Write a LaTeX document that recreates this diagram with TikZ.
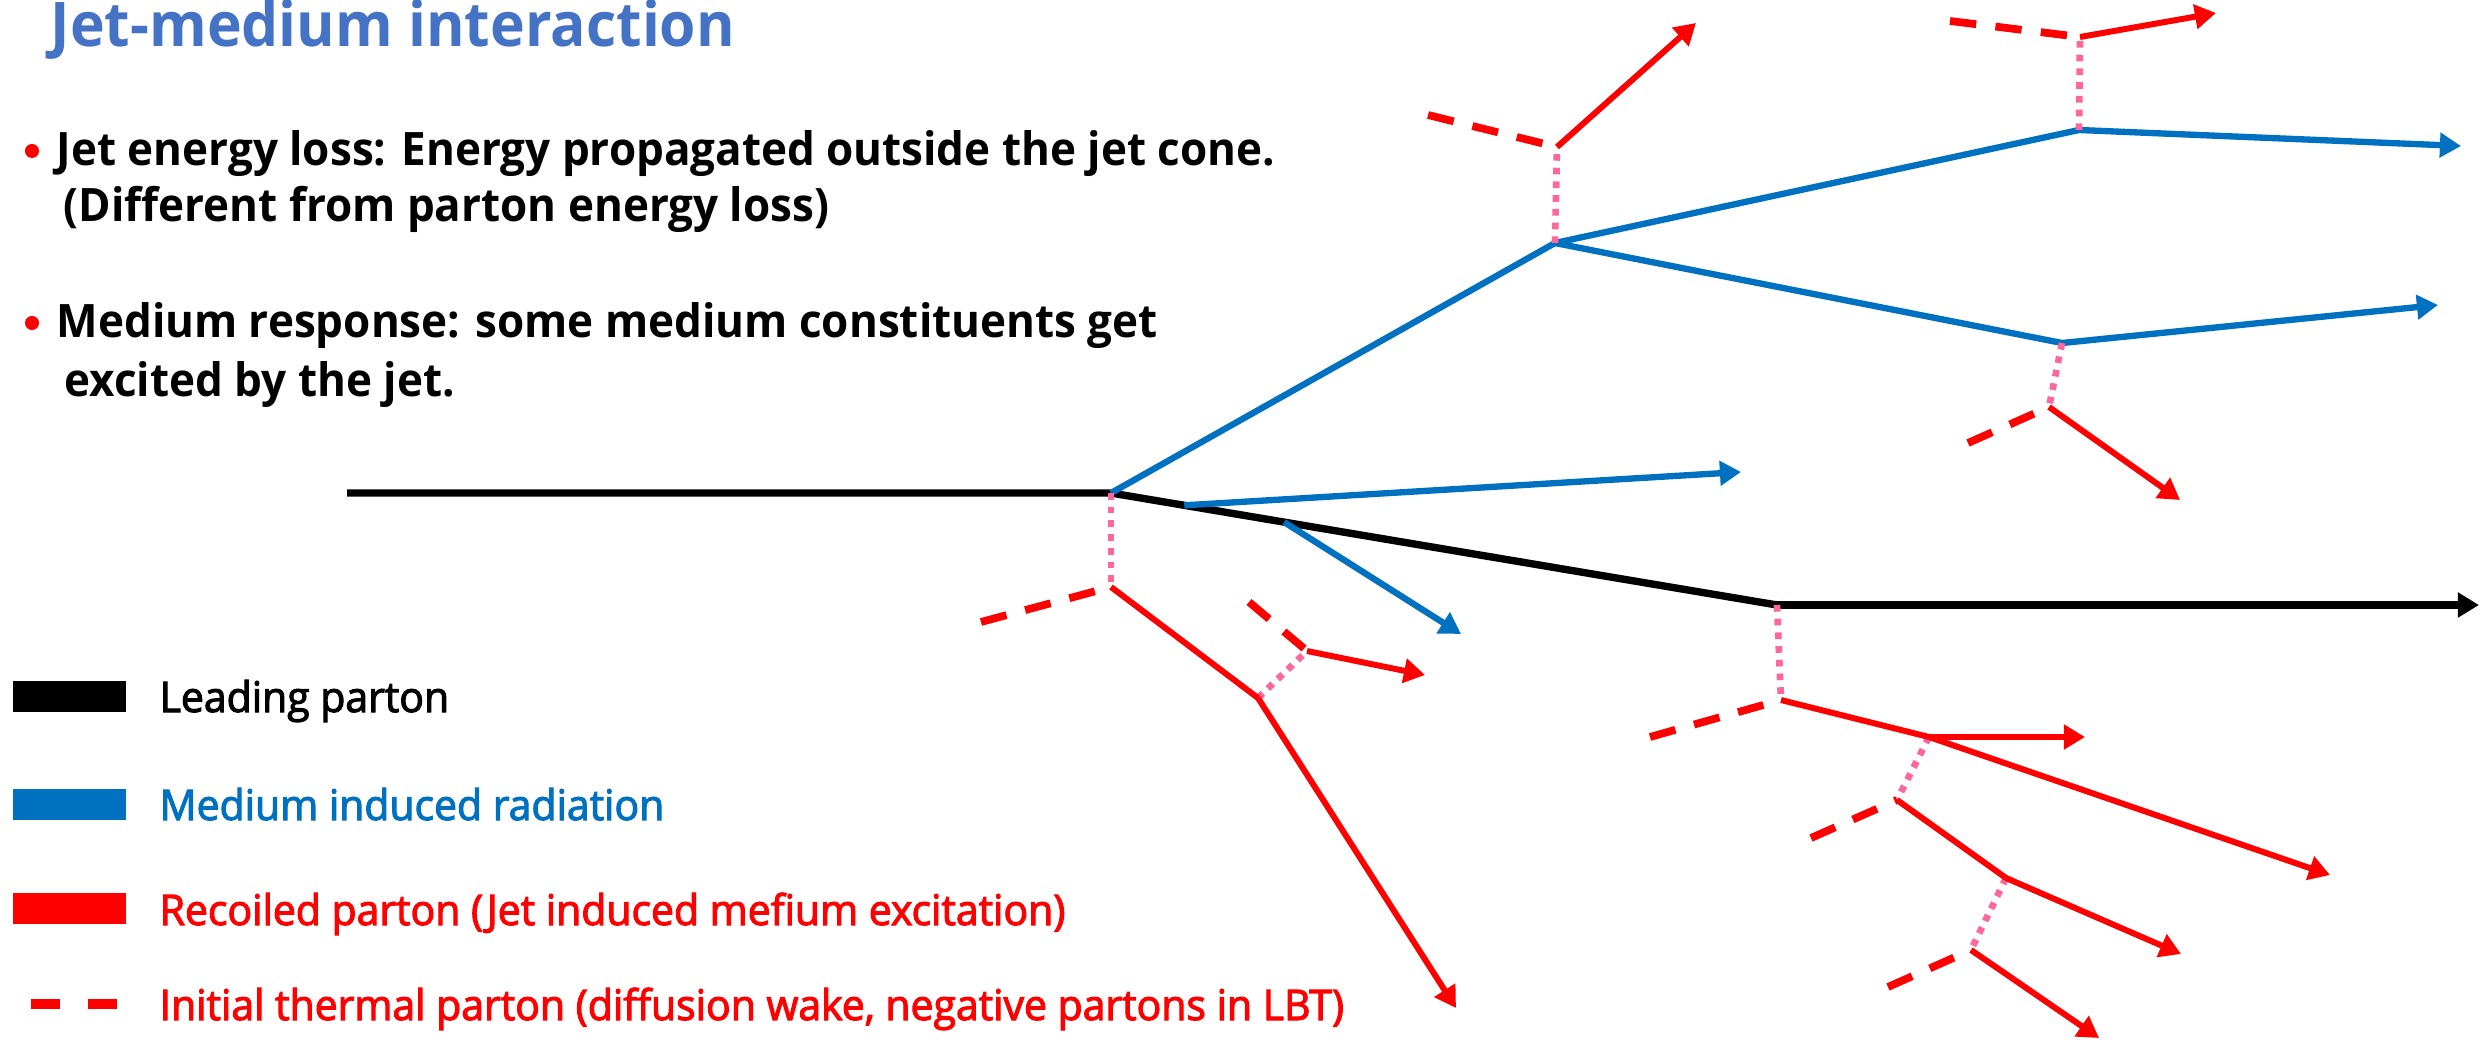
\documentclass[tikz,border=0pt]{standalone}
\usepackage{xcolor}
\usepackage{fontspec}
\setmainfont{Open Sans}[FakeStretch=0.97, FakeBold=2.5]
\newfontfamily\headfont{Open Sans}[FakeStretch=0.955]
\usepackage{tikz}
\usetikzlibrary{arrows.meta, positioning, calc}
\definecolor{titleblue}{RGB}{68,114,196}
\definecolor{radblue}{RGB}{0,112,192}
\definecolor{wakepink}{RGB}{255,102,153}
\tikzstyle{tip} = [-{Triangle[length=6pt,width=6.8pt]}]
\tikzstyle{leading} = [line width=2.1pt, black]
\tikzstyle{radiation} = [line width=1.8pt, radblue]
\tikzstyle{recoil} = [line width=1.7pt, red]
\tikzstyle{thermal} = [line width=2.2pt, red, dash pattern=on 7.5pt off 5.5pt]
\tikzstyle{scatter} = [line width=1.9pt, wakepink, dash pattern=on 1.9pt off 2pt]
\tikzstyle{heading} = [anchor=base west, inner sep=0pt, text=titleblue, font=\headfont\fontsize{17.5}{21}\selectfont\bfseries]
\tikzstyle{bullettext} = [anchor=base west, inner sep=0pt, font=\headfont\fontsize{13.1}{16}\selectfont\bfseries]
\tikzstyle{bulletdot} = [circle, fill=red, inner sep=0pt, minimum size=0.14cm]
\tikzstyle{swatch} = [rectangle, inner sep=0pt, minimum width=1.13cm, minimum height=0.31cm]
\tikzstyle{legendtext} = [anchor=base west, inner sep=0pt, font=\fontsize{12}{14}\selectfont]

\begin{document}
\begin{tikzpicture}[x=0.01cm, y=-0.01cm]
    \useasboundingbox (0,0) rectangle (2481,1040);

    % Titulo
    \node (title) [heading] at (50,47) {Jet-medium interaction};

    % Puntos
    \node (dot1) [bulletdot] at (32,151) {};
    \node (loss) [bullettext] at (56,166) {Jet energy loss: Energy propagated outside the jet cone.};
    \node (lossb) [bullettext] at (63,222) {(Different from parton energy loss)};
    \node (dot2) [bulletdot] at (32,323) {};
    \node (resp) [bullettext] at (56,338) {Medium response: some medium constituents get};
    \node (respb) [bullettext] at (64,397) {excited by the jet.};

    % Leyenda
    \node (swlead) [swatch, fill=black] at (69.5,696.5) {};
    \node (swrad) [swatch, fill=radblue] at (69.5,804.5) {};
    \node (swrec) [swatch, fill=red] at (69.5,908.5) {};
    \coordinate (swth1) at (31,1004);
    \coordinate (swth2) at (118,1004);
    \draw [red, line width=2.6pt, dash pattern=on 8.2pt off 8pt] (swth1) -- (swth2);
    \node (txlead) [legendtext] at (159,712) {Leading parton};
    \node (txrad) [legendtext, text=radblue] at (159,820) {Medium induced radiation};
    \node (txrec) [legendtext, text=red] at (159,925) {Recoiled parton (Jet induced mefium excitation)};
    \node (txth) [legendtext, text=red] at (159,1020) {Initial thermal parton (diffusion wake, negative partons in LBT)};

    % Vertices
    \coordinate (start) at (347,493);
    \coordinate (v1) at (1111,493);
    \coordinate (v2) at (1777,605);
    \coordinate (lpend) at (2479,605);
    \coordinate (b1) at ($(v1)!0.11!(v2)$);
    \coordinate (b2) at ($(v1)!0.26!(v2)$);
    \coordinate (v3) at (1555,243);
    \coordinate (v4) at (2079,130);
    \coordinate (v4end) at (2461,146);
    \coordinate (v5) at (2062,343);
    \coordinate (v5end) at (2438,305);
    \coordinate (b1end) at (1741,472);
    \coordinate (b2end) at (1461,634);

    \coordinate (r1) at (1111,587);
    \coordinate (r1th) at (981,622);
    \coordinate (r2) at (1258,698);
    \coordinate (r2end) at (1456,1008);
    \coordinate (r3) at (1307,651);
    \coordinate (r3th) at (1249,602);
    \coordinate (r3end) at (1425,675);
    \coordinate (r4) at (1557,147);
    \coordinate (r4th) at (1428,115);
    \coordinate (r4end) at (1696,23);
    \coordinate (r5) at (2080,37);
    \coordinate (r5th) at (1950,21);
    \coordinate (r5end) at (2216,13);
    \coordinate (r6) at (2049,407);
    \coordinate (r6th) at (1968,443);
    \coordinate (r6end) at (2180,500);
    \coordinate (r7) at (1781,700);
    \coordinate (r7th) at (1650,737);
    \coordinate (r8) at (1929,737);
    \coordinate (r8end) at (2330,875);
    \coordinate (r8hend) at (2085,737);
    \coordinate (r9) at (1897,800);
    \coordinate (r9th) at (1811,838);
    \coordinate (r10) at (2006,878);
    \coordinate (r10end) at (2181,954);
    \coordinate (r11) at (1971,950);
    \coordinate (r11th) at (1888,987);
    \coordinate (r11end) at (2099,1038);

    % Parton lider
    \draw [leading] (start) -- (v1) -- (v2);
    \draw [leading, tip] (v2) -- (lpend);

    % Radiacion
    \draw [radiation] (v1) -- (v3) -- (v4);
    \draw [radiation, tip] (v4) -- (v4end);
    \draw [radiation] (v3) -- (v5);
    \draw [radiation, tip] (v5) -- (v5end);
    \draw [radiation, tip] (b1) -- (b1end);
    \draw [radiation, tip] (b2) -- (b2end);

    % Dispersiones
    \draw [scatter] (v1) -- (r1);
    \draw [scatter] (r2) -- (r3);
    \draw [scatter] (v3) -- (r4);
    \draw [scatter] (v4) -- (r5);
    \draw [scatter] (v5) -- (r6);
    \draw [scatter] (v2) -- (r7);
    \draw [scatter] (r8) -- (r9);
    \draw [scatter] (r10) -- (r11);

    % Partones termicos
    \draw [thermal] (r1th) -- (r1);
    \draw [thermal] (r3th) -- (r3);
    \draw [thermal] (r4th) -- (r4);
    \draw [thermal] (r5th) -- (r5);
    \draw [thermal] (r6th) -- (r6);
    \draw [thermal] (r7th) -- (r7);
    \draw [thermal] (r9th) -- (r9);
    \draw [thermal] (r11th) -- (r11);

    % Retroceso
    \draw [recoil] (r1) -- (r2);
    \draw [recoil, tip] (r2) -- (r2end);
    \draw [recoil, tip] (r3) -- (r3end);
    \draw [recoil, tip] (r4) -- (r4end);
    \draw [recoil, tip] (r5) -- (r5end);
    \draw [recoil, tip] (r6) -- (r6end);
    \draw [recoil] (r7) -- (r8);
    \draw [recoil, tip] (r8) -- (r8end);
    \draw [recoil, tip] (r8) -- (r8hend);
    \draw [recoil] (r9) -- (r10);
    \draw [recoil, tip] (r10) -- (r10end);
    \draw [recoil, tip] (r11) -- (r11end);
\end{tikzpicture}
\end{document}
